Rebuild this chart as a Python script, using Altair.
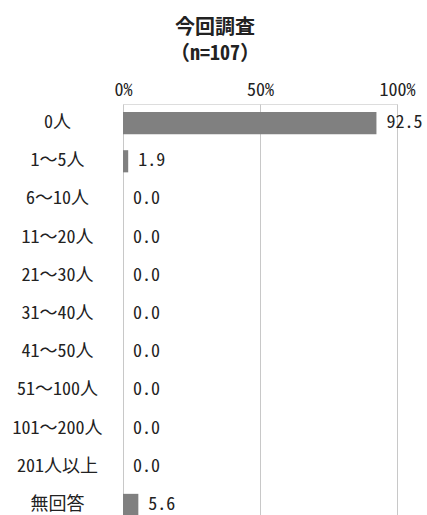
import altair as alt
import pandas as pd

categories = ["0人", "1～5人", "6～10人", "11～20人", "21～30人", "31～40人",
              "41～50人", "51～100人", "101～200人", "201人以上", "無回答"]
values = [92.5, 1.9, 0.0, 0.0, 0.0, 0.0, 0.0, 0.0, 0.0, 0.0, 5.6]
x_ticks = [0, 50, 100]

df = pd.DataFrame({"cat": categories, "val": values})

FONT = "Noto Sans Mono CJK JP, Noto Sans CJK JP"

y_enc = alt.Y("cat:N", sort=categories,
              scale=alt.Scale(paddingInner=0.42, paddingOuter=0.21),
              axis=alt.Axis(title=None, labelAlign="center", labelPadding=66,
                            labelFontSize=18, labelColor="#222", labelFont=FONT,
                            ticks=False, domain=False))
x_enc = alt.X("val:Q", scale=alt.Scale(domain=[0, 100]),
              axis=alt.Axis(orient="top", values=x_ticks, title=None,
                            labelExpr="datum.value + '%'", labelFontSize=18,
                            labelColor="#222", labelFont=FONT, ticks=False,
                            labelFlush=False, domain=False, labelPadding=5,
                            grid=True, gridColor="#c8c8c8", gridWidth=1))

bars = alt.Chart(df).mark_bar(color="#808080").encode(x=x_enc, y=y_enc)

labels = alt.Chart(df).mark_text(align="left", dx=10, fontSize=18,
                                 font=FONT, color="#222").encode(
    x="val:Q", y=alt.Y("cat:N", sort=categories),
    text=alt.Text("val:Q", format=".1f"))

chart = alt.layer(bars, labels).properties(
    width=274, height=420,
    title=alt.TitleParams(["今回調査", "（n=107）"], fontSize=20, font=FONT,
                          fontWeight="bold", color="#222", anchor="middle",
                          dx=-45, offset=17, lineHeight=26),
    autosize=alt.AutoSizeParams(type="none"),
    padding={"left": 123, "top": 104, "right": 30, "bottom": 0},
).configure_view(stroke=None).configure(background="white")

chart.save("out.html", embed_options={"renderer": "svg", "actions": False})
